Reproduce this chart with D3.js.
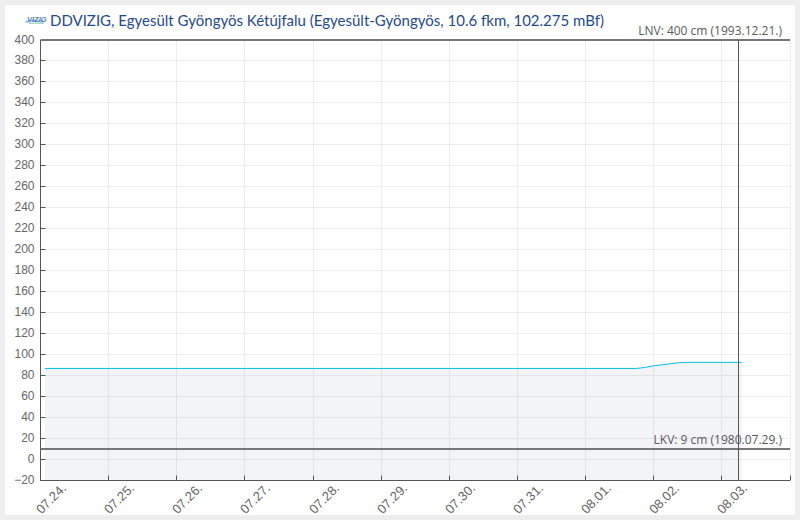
<!DOCTYPE html>
<html><head><meta charset="utf-8">
<script src="https://cdn.jsdelivr.net/npm/d3@7"></script>
<style>
html,body{margin:0;padding:0;background:#eeeeee;}
svg{display:block;}
</style></head><body>
<svg id="c" width="800" height="520"></svg>
<script>
const titleText = "DDVIZIG, Egyesült Gyöngyös Kétújfalu (Egyesült-Gyöngyös, 10.6 fkm, 102.275 mBf)";
const yTicks = [-20,0,20,40,60,80,100,120,140,160,180,200,220,240,260,280,300,320,340,360,380,400];
const xTickDates = ["2023-07-24","2023-07-25","2023-07-26","2023-07-27","2023-07-28","2023-07-29","2023-07-30","2023-07-31","2023-08-01","2023-08-02","2023-08-03"];
const xTickLabels = ["07.24.","07.25.","07.26.","07.27.","07.28.","07.29.","07.30.","07.31.","08.01.","08.02.","08.03."];
const seriesTimes = ["2023-07-24T01:30","2023-08-01T18:00","2023-08-01T21:00","2023-08-02T00:00","2023-08-02T03:00","2023-08-02T06:00","2023-08-02T09:00","2023-08-02T12:00","2023-08-03T07:00"];
const seriesValues = [86.5,86.5,87.5,89,90,91,92,92.3,92.3];
const nowTime = "2023-08-03T05:45";
const lnvValue = 400, lkvValue = 9;
const lnvLabel = "LNV: 400 cm (1993.12.21.)", lkvLabel = "LKV: 9 cm (1980.07.29.)";

const svg = d3.select("#c");
const parse = s => new Date(s + (s.length===10 ? "T00:00" : ""));
const L=40.5,R=790,T=40,B=480;
const x = d3.scaleTime().domain([parse("2023-07-24"),parse("2023-08-04")]).range([L,R]);
const y = d3.scaleLinear().domain([-20,400]).range([B,T]);
const snap = v => Math.floor(v)+.5;

svg.append("rect").attr("x",5).attr("y",5).attr("width",790).attr("height",510).attr("fill","#fff");

const gridC="#ededed";
const grid=svg.append("g");
grid.selectAll("line.gy").data(yTicks).join("line").attr("class","gy").attr("x1",L).attr("x2",R)
  .attr("y1",d=>snap(y(d))).attr("y2",d=>snap(y(d))).attr("stroke",gridC);
const xDates=xTickDates.map(parse);
const xAll=xDates.concat([parse("2023-08-04")]);
grid.selectAll("line.gx").data(xAll.slice(1)).join("line").attr("class","gx")
  .attr("x1",d=>snap(x(d))).attr("x2",d=>snap(x(d))).attr("y1",T).attr("y2",B).attr("stroke",gridC);

const pts=seriesTimes.map((t,i)=>({t:parse(t),v:seriesValues[i]}));
const area=d3.area().x(d=>x(d.t)).y0(y(-20)).y1(d=>y(d.v));
svg.append("path").datum(pts).attr("d",area).attr("fill","#1f3a7a").attr("fill-opacity",.055);
svg.append("path").datum(pts).attr("d",d3.line().x(d=>x(d.t)).y(d=>y(d.v)))
  .attr("fill","none").attr("stroke","#00bfe8").attr("stroke-width",1);

const axisC="#555";
const yAxis=svg.append("g").attr("transform",`translate(${L},0)`)
  .call(d3.axisLeft(y).tickValues(yTicks).tickSize(-5).tickPadding(6).tickFormat(d3.format("d")));
yAxis.select(".domain").attr("stroke",axisC).attr("d",`M0,${T}V${B}`);
yAxis.selectAll(".tick").attr("transform",d=>`translate(0,${snap(y(d))})`);
yAxis.selectAll("line").attr("stroke",axisC);
yAxis.selectAll("text").attr("font-family","'Liberation Sans',Arial,sans-serif").attr("font-size",12).attr("fill","#666");

const xAxis=svg.append("g").attr("transform",`translate(0,${B+.5})`)
  .call(d3.axisBottom(x).tickValues(xAll).tickSize(-5).tickFormat((d,i)=>xTickLabels[i]||""));
xAxis.select(".domain").attr("stroke",axisC).attr("d",`M${L},0H${R}`);
xAxis.selectAll(".tick").attr("transform",d=>`translate(${snap(x(d))},0)`);
xAxis.selectAll("line").attr("stroke",axisC);
xAxis.selectAll("text").attr("font-family","'Liberation Sans',Arial,sans-serif").attr("font-size",13).attr("fill","#666")
  .attr("text-anchor","start").attr("dy",0).attr("y",0)
  .attr("transform","translate(1,34) rotate(-45)");

svg.append("line").attr("x1",L).attr("x2",R).attr("y1",y(lnvValue)).attr("y2",y(lnvValue)).attr("stroke","#777").attr("stroke-width",2);
svg.append("line").attr("x1",L).attr("x2",R).attr("y1",Math.floor(y(lkvValue))).attr("y2",Math.floor(y(lkvValue))).attr("stroke","#777").attr("stroke-width",2);
svg.append("line").attr("x1",snap(x(parse(nowTime)))).attr("x2",snap(x(parse(nowTime)))).attr("y1",T).attr("y2",B).attr("stroke","#555").attr("stroke-width",1);

const lab=svg.append("g").attr("font-family","'Open Sans',sans-serif").attr("font-size",12).attr("fill","#5a5a5a").attr("text-anchor","end");
lab.append("text").attr("x",782).attr("y",35).text(lnvLabel);
lab.append("text").attr("x",782).attr("y",444).text(lkvLabel);

// logo
const logo=svg.append("g").attr("transform","translate(25,14)").attr("opacity",.8);
logo.append("path").attr("d","M0,7 Q8,4 20,7 L18,9 Q9,7 1,9Z").attr("fill","#7fb8e0");
logo.append("path").attr("d","M4,9 Q11,8 19,9 L18,10 Q10,9.5 4,10Z").attr("fill","#8cc9a0");
logo.append("text").attr("x",2).attr("y",7.5).attr("font-family","'Liberation Sans',sans-serif").attr("font-size",7.5).attr("font-style","italic").attr("font-weight","bold").attr("fill","#2f5fa8").text("VIZIG");

svg.append("text").attr("x",50).attr("y",26).attr("font-family","Lato,sans-serif").attr("font-size",15).attr("fill","#1f4a8c").text(titleText);
</script>
</body></html>
